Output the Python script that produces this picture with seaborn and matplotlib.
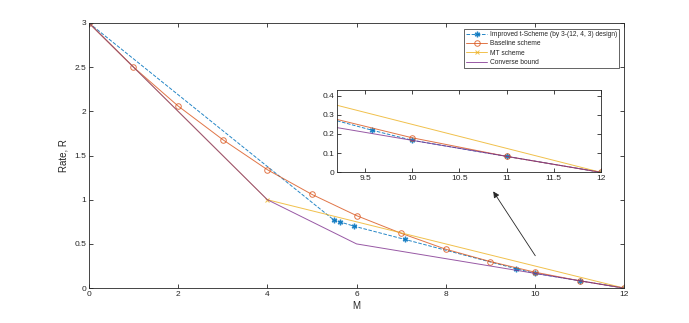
import numpy as np
import pandas as pd
import seaborn as sns
import matplotlib
matplotlib.use("Agg")
import matplotlib.pyplot as plt

# data
m_improved = [0, 5.5, 5.64, 5.95, 7.09, 9.57, 10, 11, 12]
r_improved = [3, 0.767, 0.747, 0.70, 0.55, 0.22, 0.167, 0.083, 0]

m_baseline = [0, 1, 2, 3, 4, 5, 6, 7, 8, 9, 10, 11, 12]
r_baseline = [3, 2.5, 2.06, 1.68, 1.34, 1.06, 0.82, 0.62, 0.44, 0.30, 0.18, 0.083, 0]

m_mt = [0, 4, 12]
r_mt = [3, 1, 0]

m_converse = [0, 4, 6, 12]
r_converse = [3, 1, 0.5, 0]

labels = ["Improved t-Scheme (by 3-(12, 4, 3) design)", "Baseline scheme",
          "MT scheme", "Converse bound"]

sns.set_theme(style="ticks")
plt.rcParams["font.family"] = ["Liberation Sans", "DejaVu Sans"]
plt.rcParams["axes.edgecolor"] = "#262626"
plt.rcParams["axes.linewidth"] = 0.6
plt.rcParams["xtick.direction"] = "in"
plt.rcParams["ytick.direction"] = "in"
plt.rcParams["xtick.color"] = "#262626"
plt.rcParams["ytick.color"] = "#262626"
plt.rcParams["xtick.major.width"] = 0.6
plt.rcParams["ytick.major.width"] = 0.6
plt.rcParams["xtick.major.size"] = 3
plt.rcParams["ytick.major.size"] = 3

c_blue = "#0072BD"
c_orange = "#D95319"
c_yellow = "#EDB120"
c_purple = "#7E2F8E"

fig = plt.figure(figsize=(6.89, 3.23), dpi=100)
ax = fig.add_axes([0.129, 0.108, 0.777, 0.821])


def draw(a, ms=4):
    sns.lineplot(x=m_improved, y=r_improved, ax=a, color=c_blue, linestyle="--",
                 linewidth=0.7, marker=(6, 2, 0), markersize=ms, markeredgewidth=1.0,
                 markeredgecolor=c_blue, estimator=None, label=labels[0], alpha=0.85)
    sns.lineplot(x=m_baseline, y=r_baseline, ax=a, color=c_orange, linewidth=0.7,
                 marker="o", markersize=ms, markerfacecolor="none",
                 markeredgecolor=c_orange, markeredgewidth=0.7,
                 estimator=None, label=labels[1], alpha=0.8)
    sns.lineplot(x=m_mt, y=r_mt, ax=a, color=c_yellow, linewidth=0.7, marker="x",
                 markersize=ms - 1, markeredgecolor=c_yellow, markeredgewidth=0.7,
                 estimator=None, label=labels[2], alpha=0.8)
    sns.lineplot(x=m_converse, y=r_converse, ax=a, color=c_purple, linewidth=0.7,
                 estimator=None, label=labels[3], alpha=0.8)


draw(ax)
ax.set_xlim(0, 12)
ax.set_ylim(0, 3)
ax.set_xticks(np.arange(0, 13, 2))
ax.set_yticks(np.arange(0, 3.01, 0.5))
ax.set_yticklabels(["0", "0.5", "1", "1.5", "2", "2.5", "3"])
ax.tick_params(labelsize=6, top=True, right=True, pad=2)
for s in ax.spines.values():
    s.set_visible(True)
    s.set_color("#262626")
ax.set_xlabel("M", fontsize=7, labelpad=2)
ax.set_ylabel("Rate, R", fontsize=7, labelpad=4)
leg = ax.legend(loc="upper right", fontsize=4.8, frameon=True, fancybox=False,
                edgecolor="#262626", framealpha=1, borderpad=0.3, labelspacing=0.35,
                handlelength=3.2, handletextpad=0.4, bbox_to_anchor=(0.997, 0.99))
leg.get_frame().set_linewidth(0.5)

# inset zoom
axin = fig.add_axes([0.489, 0.4666, 0.383, 0.255])
draw(axin, ms=4)
axin.get_legend().remove()
axin.set_xlim(9.2, 12)
axin.set_ylim(0, 0.43)
axin.set_xticks([9.5, 10, 10.5, 11, 11.5, 12])
axin.set_xticklabels(["9.5", "10", "10.5", "11", "11.5", "12"])
axin.set_yticks([0, 0.1, 0.2, 0.3, 0.4])
axin.set_yticklabels(["0", "0.1", "0.2", "0.3", "0.4"])
axin.tick_params(labelsize=6, top=True, right=True, pad=2)
for s in axin.spines.values():
    s.set_visible(True)
    s.set_color("#262626")
axin.set_xlabel("")
axin.set_ylabel("")

# arrow pointing to the inset
ax.annotate("", xy=(9.03, 1.12), xytext=(10.04, 0.34),
            arrowprops=dict(arrowstyle="-|>", color="#262626", lw=0.6,
                            mutation_scale=9))

fig.savefig("out.png", dpi=100, facecolor="white")
